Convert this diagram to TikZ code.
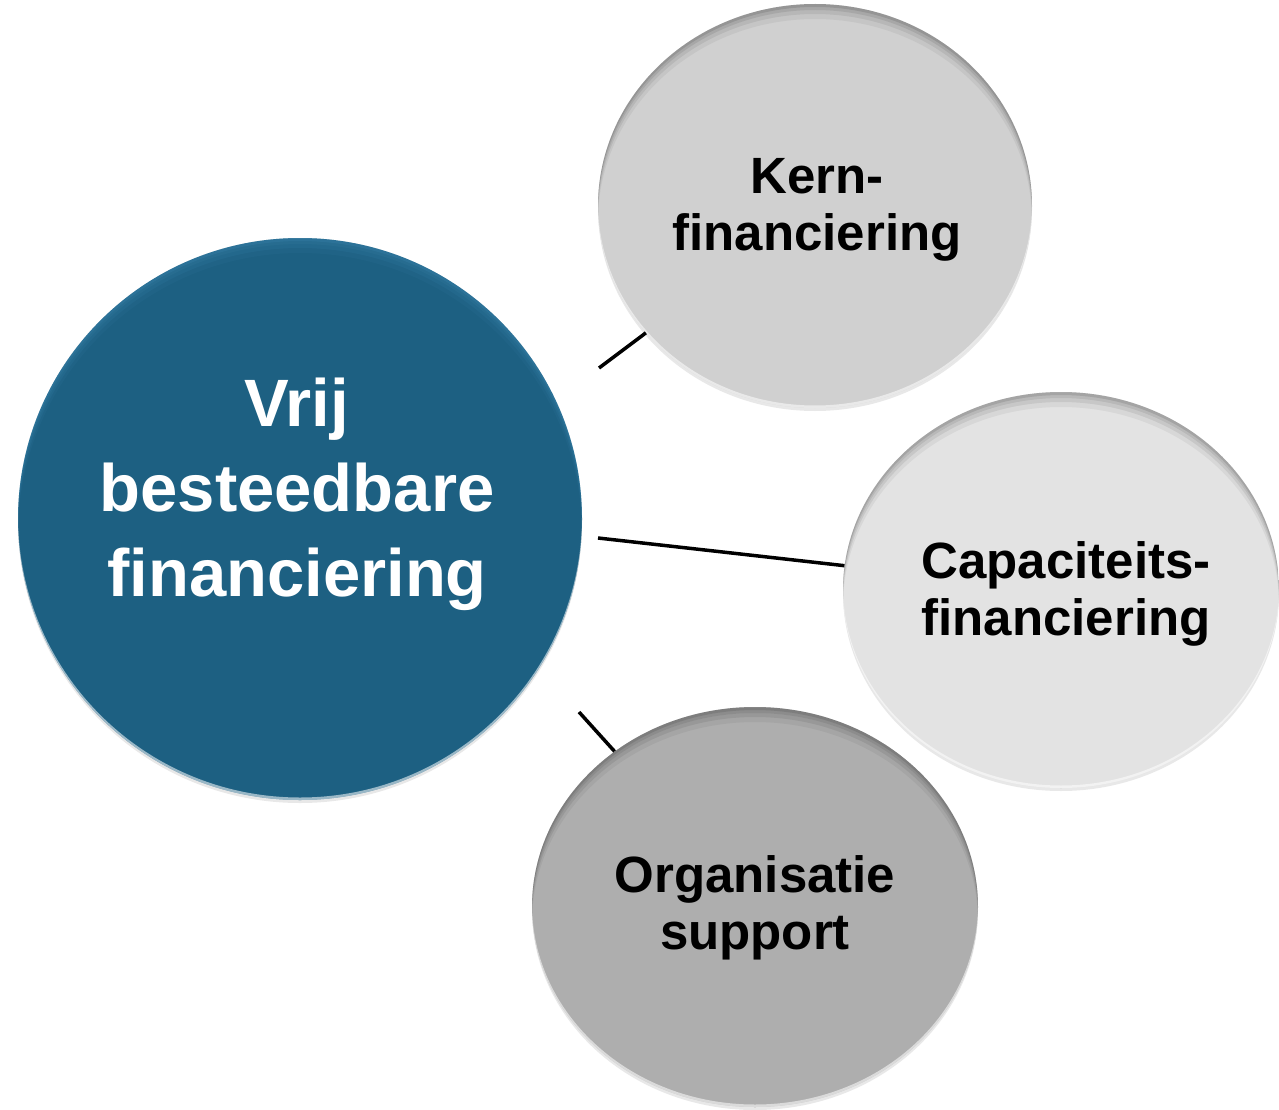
\documentclass[tikz,border=0pt]{standalone}
\usepackage{fontspec}
\setmainfont{Liberation Sans}
\usetikzlibrary{shapes.geometric,shadows}
\definecolor{mainblue}{HTML}{1D6082}
\definecolor{mainhi}{HTML}{5AAAD8}
\definecolor{kerngray}{HTML}{D0D0D0}
\definecolor{capgray}{HTML}{E3E3E3}
\definecolor{orggray}{HTML}{AEAEAE}
\tikzset{
  bubble/.style n args={4}{ellipse, draw=none, fill=#1, inner sep=0pt,
    minimum width=2*#2, minimum height=2*#3,
    drop shadow={opacity=0.18, shadow xshift=0pt, shadow yshift=-3pt},
    path picture={
      \foreach \d/\o in {3/0.10,6/0.08,10/0.07,15/0.05} {
        \fill[#4, opacity=\o, even odd rule]
          (path picture bounding box.south west) rectangle (path picture bounding box.north east)
          ([yshift=-\d*1pt]path picture bounding box.center) ellipse [x radius=#2, y radius=#3];
      }
      \fill[white, opacity=0.55, even odd rule]
          (path picture bounding box.south west) rectangle (path picture bounding box.north east)
          ([yshift=2.5pt]path picture bounding box.center) ellipse [x radius=#2, y radius=#3];
    }},
  bigtext/.style={font=\fontsize{67}{85}\selectfont\bfseries, text=white, align=center, inner sep=0pt},
  smalltext/.style={font=\fontsize{51}{57}\selectfont\bfseries, text=black, align=center, inner sep=0pt},
  conn/.style={draw=black, line width=3.5pt}
}
\begin{document}
\begin{tikzpicture}[x=1pt,y=-1pt]
\useasboundingbox (0,0) rectangle (1279,1110);
\fill[white] (0,0) rectangle (1279,1110);

\node[bubble={mainblue}{282pt}{281pt}{mainhi}] (main) at (300,519) {};
\node[bubble={kerngray}{217pt}{202pt}{black}] (kern) at (815,206) {};
\node[bubble={capgray}{218pt}{198pt}{black}] (cap) at (1061,590) {};
\node[bubble={orggray}{223pt}{200pt}{black}] (org) at (755,907) {};

\node[bigtext] (maint) at (297,494) {Vrij\\besteedbare\\financiering};
\node[smalltext] (kernt) at (817,210) {Kern-\\financiering};
\node[smalltext] (capt) at (1066,594) {Capaciteits-\\financiering};
\node[smalltext] (orgt) at (755,908) {Organisatie\\support};

\coordinate (c1) at (599,368);
\coordinate (c2) at (598,538);
\coordinate (c3) at (579,712);
\draw[conn] (c1) -- (kern);
\draw[conn] (c2) -- (cap);
\draw[conn] (c3) -- (org);
\end{tikzpicture}
\end{document}
